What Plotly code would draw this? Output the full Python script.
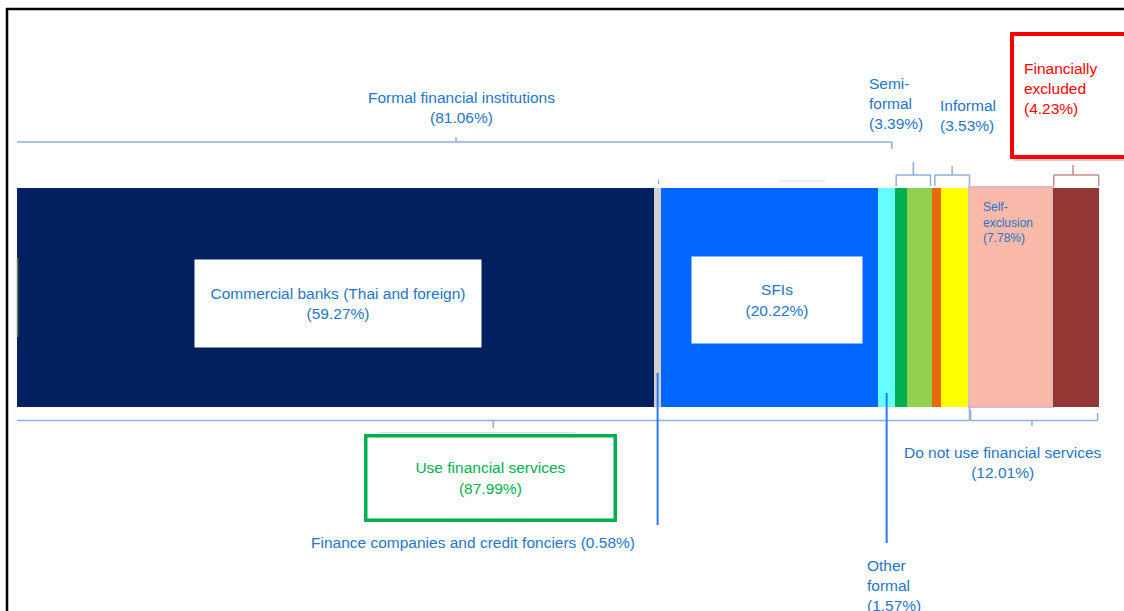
import plotly.graph_objects as go

# segments of the single stacked bar (share of adults, %)
segments = ["Commercial banks (Thai and foreign)", "Finance companies and credit fonciers",
            "SFIs", "Other formal", "Semi-formal (a)", "Semi-formal (b)",
            "Informal (a)", "Informal (b)", "Self-exclusion", "Financially excluded"]
shares = [59.27, 0.58, 20.22, 1.57, 1.15, 2.24, 0.90, 2.63, 7.78, 4.23]
seg_colors = ["#002060", "#D0D0D0", "#0066FF", "#66FFFF", "#00B050", "#92D050",
              "#E46C0A", "#FFFF00", "#FBB9AA", "#953735"]

# group labels
formal_share = 81.06
semi_share = 3.39
informal_share = 3.53
use_share = 87.99
not_use_share = 12.01

W, H = 1124, 611
BLUE_TXT = "#2576C8"
BRACKET = "#8EAEDA"
FONT = "Liberation Sans, Arial, sans-serif"

total = sum(shares)
ppu = (1098.7 - 17) / total
x_lo = -17 / ppu
x_hi = total + (W - 1098.7) / ppu

cum = [0]
for s in shares:
    cum.append(cum[-1] + s)


def px(x):
    return x / W


fig = go.Figure()
for name, val, col in zip(segments, shares, seg_colors):
    line = dict(width=0)
    if name == "Self-exclusion":
        line = dict(width=3, color="#E6B8B7")
    fig.add_trace(go.Bar(orientation="h", x=[val], y=[297.5], width=[219], name=name,
                         marker=dict(color=col, line=line), showlegend=False,
                         hovertemplate=name + ": %{x}%<extra></extra>"))

shapes = []


def seg(x0, y0, x1, y1, color=BRACKET, width=1.5):
    shapes.append(dict(type="line", xref="x", yref="y", x0=x0, y0=y0, x1=x1, y1=y1,
                       line=dict(color=color, width=width)))


# frame
shapes.append(dict(type="line", xref="paper", yref="y", x0=px(7), x1=px(7), y0=8, y1=H,
                   line=dict(color="black", width=2.5)))
shapes.append(dict(type="line", xref="paper", yref="y", x0=px(6), x1=1, y0=9, y1=9,
                   line=dict(color="black", width=2.5)))

# formal bracket (top)
f_end = cum[4]
seg(0, 142, f_end - 0.3, 142)
seg(f_end - 0.3, 142, f_end - 0.3, 149)
seg(f_end / 2, 142, f_end / 2, 137)

# semi-formal bracket
s0, s1 = cum[4] + 0.1, cum[6] - 0.1
seg(s0, 175, s1, 175)
seg(s0, 175, s0, 186)
seg(s1, 175, s1, 186)
seg((s0 + s1) / 2, 175, (s0 + s1) / 2, 162)

# informal bracket
i0, i1 = cum[6] + 0.3, cum[8]
seg(i0, 175, i1, 175)
seg(i0, 175, i0, 186)
seg(i1, 175, i1, 186)
seg((i0 + i1) / 2, 175, (i0 + i1) / 2, 166)

# financially excluded bracket
e0, e1 = cum[9] + 0.05, cum[10]
RED_BR = "#CC8A8A"
seg(e0, 175, e1, 175, RED_BR)
seg(e0, 175, e0, 186, RED_BR)
seg(e1, 175, e1, 186, RED_BR)
seg((e0 + e1) / 2 - 0.3, 175, (e0 + e1) / 2 - 0.3, 165, RED_BR)

# use financial services bracket (bottom)
u_end = cum[8]
seg(0, 420.5, u_end, 420.5)
seg(u_end, 420.5, u_end, 407)
seg(u_end / 2, 420.5, u_end / 2, 428)

# do not use bracket
n0, n1 = cum[8] + 0.1, cum[10] - 0.1
seg(n0, 420.5, n1, 420.5)
seg(n0, 420.5, n0, 410)
seg(n1, 420.5, n1, 413)
seg((n0 + n1) / 2 - 0.2, 420.5, (n0 + n1) / 2 - 0.2, 426)

# pointer lines
fc_mid = (cum[1] + cum[2]) / 2
seg(fc_mid, 373, fc_mid, 525, "#2A7BF0", 2)
of_mid = (cum[3] + cum[4]) / 2
seg(of_mid, 393, of_mid, 543, "#2A7BF0", 2)

# faint artifacts above the bar / green box
seg(fc_mid + 0.1, 180, fc_mid + 0.1, 184, "#6A9BE0", 1)
seg((779 - 17) / ppu, 181, (826 - 17) / ppu, 181, "#D8E0EC", 1)
seg((378 - 17) / ppu, 432.5, (575 - 17) / ppu, 432.5, "#CDEBD7", 1)

# left edge olive mark
shapes.append(dict(type="line", xref="paper", yref="y", x0=px(17.5), x1=px(17.5), y0=258, y1=337,
                   line=dict(color="#6E7F4A", width=1.5)))

# red box with shadow
shapes.append(dict(type="rect", xref="paper", yref="y", x0=px(1014), x1=px(1145), y0=36, y1=161,
                   line=dict(width=0), fillcolor="rgba(120,120,120,0.35)"))
shapes.append(dict(type="rect", xref="paper", yref="y", x0=px(1012), x1=px(1140), y0=34, y1=157,
                   line=dict(color="#FF0000", width=4), fillcolor="white"))

annotations = []


def txt(text, x, y, color=BLUE_TXT, size=15.5, xanchor="center", align="center", **kw):
    d = dict(text=text, x=px(x), y=y, xref="paper", yref="y", showarrow=False,
             xanchor=xanchor, yanchor="middle", align=align,
             font=dict(family=FONT, size=size, color=color))
    d.update(kw)
    annotations.append(d)


txt("Commercial banks (Thai and foreign)<br>(%.2f%%)" % shares[0], 338, 303.5,
    bgcolor="white", width=286, height=87, borderpad=0)
txt("SFIs<br>(%.2f%%)" % shares[2], 777, 300, bgcolor="white", width=170, height=86, borderpad=0)
txt("Formal financial institutions<br>(%.2f%%)" % formal_share, 461, 107.5)
txt("Semi-<br>formal<br>(%.2f%%)" % semi_share, 867, 103.5, xanchor="left", align="left")
txt("Informal<br>(%.2f%%)" % informal_share, 938, 115, xanchor="left", align="left")
txt("Financially<br>excluded<br>(%.2f%%)" % shares[9], 1022, 88, color="#FF0000",
    xanchor="left", align="left")
txt("Self-<br>exclusion<br>(%.2f%%)" % shares[8], 981, 222.5, size=12, xanchor="left", align="left")
txt("Use financial services<br>(%.2f%%)" % use_share, 490.5, 478, color="#00B050",
    bgcolor="white", bordercolor="#00B050", borderwidth=3.5, borderpad=0, width=246, height=81)
txt("Do not use financial services<br>(%.2f%%)" % not_use_share, 1003, 462.5)
txt("Finance companies and credit fonciers (%.2f%%)" % shares[1], 473, 542)
txt("Other<br>formal<br>(%.2f%%)" % shares[3], 865, 585, xanchor="left", align="left")

fig.update_layout(
    width=W, height=H, margin=dict(l=0, r=0, t=0, b=0),
    paper_bgcolor="white", plot_bgcolor="white",
    barmode="stack", bargap=0,
    xaxis=dict(range=[x_lo, x_hi], visible=False, fixedrange=True),
    yaxis=dict(range=[H, 0], visible=False, fixedrange=True),
    shapes=shapes, annotations=annotations,
)

# drop the default page margin so the figure fills the window exactly
fig.write_html("out.html", config={"displayModeBar": False},
               post_script="document.body.style.margin='0';document.body.style.overflow='hidden';")
